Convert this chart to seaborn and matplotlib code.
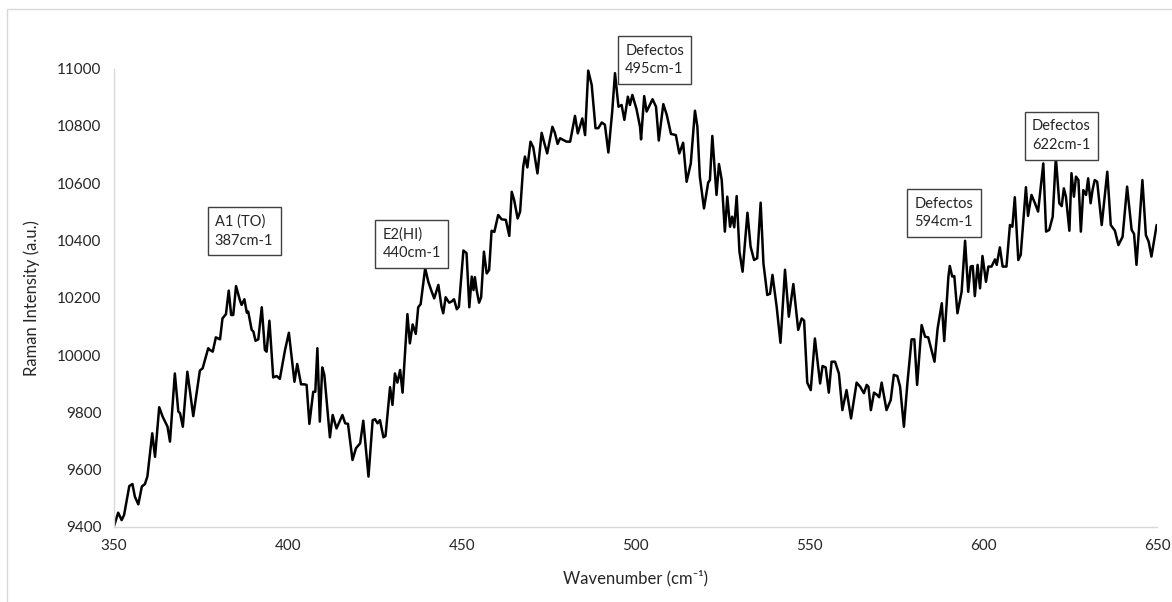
import matplotlib
matplotlib.use("Agg")
import matplotlib.pyplot as plt
import seaborn as sns
import pandas as pd
from matplotlib.patches import Rectangle

wavenumber = [
    350.0, 351.2, 352.2, 352.9, 354.4, 355.3, 356.0, 357.0, 358.0, 358.9, 359.6, 361.0, 361.8, 363.0,
    364.0, 365.0, 365.4, 366.1, 367.5, 368.5, 369.0, 369.8, 371.1, 372.0, 372.8, 373.6, 374.7, 375.5,
    377.1, 377.6, 378.4, 379.3, 380.5, 381.2, 382.2, 383.0, 383.7, 384.3, 385.1, 386.2, 386.7, 387.5,
    388.2, 388.6, 389.6, 390.1, 390.7, 391.5, 392.5, 393.4, 393.9, 394.7, 395.8, 396.8, 397.7, 399.2,
    400.3, 401.9, 402.7, 403.8, 404.7, 405.4, 406.2, 407.3, 407.9, 408.5, 409.2, 409.9, 410.5, 412.1,
    412.9, 414.0, 415.7, 416.5, 417.3, 418.6, 419.6, 420.8, 421.7, 423.2, 424.4, 425.1,
    425.8, 426.5, 427.5, 428.1, 429.4, 430.1, 430.8, 431.5, 432.3, 433.0, 434.4, 435.1, 435.9, 436.8,
    437.5, 438.2, 439.5, 440.4, 441.4, 442.1, 443.3, 444.2, 444.7, 445.4, 446.4, 447.1, 447.8, 448.6,
    449.2, 450.5, 451.4, 452.2, 452.9, 453.4, 453.8, 454.3, 455.0, 455.6, 456.4, 457.2, 457.9, 458.6,
    459.4, 460.5, 461.5, 462.7, 463.7, 464.4, 465.1, 466.1, 466.8, 467.7, 468.2, 468.9, 469.8, 470.6,
    471.8, 473.0, 473.8, 474.6, 476.1, 476.8, 477.6, 478.3, 479.2, 480.2, 481.2, 482.6, 483.4, 484.0,
    484.7, 485.5, 486.4, 487.4, 488.5, 489.3, 490.3, 491.2, 492.2, 493.3, 494.1, 495.1, 496.0, 496.8,
    497.8, 498.4, 499.1, 500.3,
    501.3, 501.6, 502.5, 503.2, 504.9, 505.9, 506.7, 508.0, 509.0, 510.2, 511.6, 512.6, 513.7, 514.7,
    515.9, 517.1, 517.8, 518.5, 519.7, 520.9, 521.4, 522.1, 523.3, 524.0, 524.8, 525.7, 526.4, 527.2,
    527.8, 528.4, 529.1, 529.9, 530.8, 532.2, 533.1, 534.1, 535.0, 536.0, 536.8, 537.9, 538.7, 539.4,
    540.6, 541.7, 543.0, 544.1, 545.4, 546.8, 547.8, 548.5, 549.4, 550.4, 551.6, 553.1, 553.8, 554.7,
    555.6, 556.4, 557.4, 558.5, 559.5, 560.7, 562.0, 563.6, 564.6, 565.7, 566.5, 567.0, 567.7, 568.6,
    569.5, 570.1, 570.8, 572.2, 573.4, 574.3, 575.3, 576.1, 577.2,
    578.2, 579.4, 580.2, 581.0, 582.3, 583.3, 584.2, 586.0, 586.9, 588.1, 588.8, 590.0, 590.4, 591.1,
    591.7, 592.6, 593.8, 594.8, 595.7, 596.4, 597.0, 597.6, 598.4, 599.1, 599.8, 600.8, 601.5, 602.4,
    603.4, 603.9, 604.8, 605.6, 606.7, 607.7, 608.4, 609.1, 610.1, 610.8, 612.3, 612.9, 613.9, 614.9,
    615.8, 617.3, 618.1, 619.0, 620.0, 620.9, 621.9, 622.6, 623.2, 623.8, 624.8, 625.4, 626.1, 626.7,
    627.4, 628.1, 628.8, 629.6, 630.2, 630.9, 631.5, 632.1, 632.8, 634.1, 635.7, 636.7, 637.9, 638.9,
    640.1, 641.4, 642.7, 643.4, 644.1, 645.8, 646.8, 647.6, 648.4, 649.9,
]

intensity = [
    9403, 9450, 9424, 9442, 9543, 9550, 9506, 9479, 9541, 9550, 9576, 9727, 9645, 9818,
    9785, 9760, 9750, 9698, 9936, 9803, 9797, 9750, 9942, 9861, 9787, 9855, 9946, 9954,
    10024, 10018, 10012, 10062, 10055, 10128, 10143, 10225, 10140, 10140, 10241, 10192, 10175, 10195,
    10148, 10152, 10088, 10082, 10050, 10055, 10167, 10018, 10012, 10120, 9922, 9927, 9917, 10018,
    10078, 9907, 9969, 9898, 9898, 9896, 9760, 9872, 9872, 10024, 9768, 9957, 9931, 9713,
    9791, 9744, 9791, 9762, 9760, 9634, 9675, 9692, 9771, 9576, 9773, 9776,
    9762, 9773, 9713, 9718, 9888, 9826, 9936, 9904, 9948, 9869, 10143, 10041, 10107, 10074,
    10167, 10178, 10303, 10256, 10221, 10198, 10245, 10169, 10146, 10202, 10183, 10187, 10195, 10160,
    10169, 10365, 10356, 10167, 10274, 10227, 10272, 10227, 10183, 10202, 10361, 10285, 10297, 10434,
    10430, 10489, 10474, 10472, 10416, 10570, 10541, 10477, 10500, 10658, 10693, 10655, 10745, 10725,
    10634, 10776, 10739, 10704, 10797, 10776, 10737, 10757, 10751, 10745, 10745, 10835, 10774, 10797,
    10826, 10768, 10993, 10943, 10792, 10792, 10812, 10804, 10707, 10850, 10984, 10867, 10873, 10821,
    10902, 10873, 10908, 10858,
    10797, 10753, 10904, 10850, 10893, 10867, 10749, 10876, 10838, 10772, 10768, 10704, 10741, 10605,
    10669, 10853, 10797, 10623, 10512, 10602, 10611, 10765, 10559, 10667, 10611, 10431, 10553, 10448,
    10483, 10446, 10555, 10361, 10291, 10497, 10379, 10332, 10338, 10532, 10320, 10210, 10214, 10280,
    10169, 10043, 10298, 10134, 10248, 10088, 10128, 10120, 9904, 9878, 10058, 9901, 9962, 9957,
    9869, 9977, 9977, 9936, 9808, 9878, 9779, 9904, 9890, 9867, 9896, 9890, 9808, 9869,
    9861, 9853, 9904, 9808, 9843, 9931, 9927, 9890, 9750,
    9901, 10055, 10055, 9896, 10105, 10064, 10062, 9977, 10093, 10181, 10049, 10274, 10311, 10274,
    10276, 10146, 10221, 10399, 10221, 10309, 10311, 10206, 10315, 10233, 10346, 10256, 10309, 10309,
    10334, 10315, 10376, 10309, 10309, 10454, 10448, 10551, 10332, 10350, 10586, 10486, 10559, 10530,
    10501, 10669, 10431, 10437, 10483, 10690, 10530, 10520, 10582, 10553, 10434, 10635, 10553, 10623,
    10611, 10431, 10576, 10559, 10617, 10530, 10579, 10611, 10605, 10454, 10640, 10454, 10434, 10384,
    10413, 10588, 10437, 10423, 10315, 10611, 10419, 10396, 10344, 10454,
]

x_ticks = [350, 400, 450, 500, 550, 600, 650]
y_ticks = [9400, 9600, 9800, 10000, 10200, 10400, 10600, 10800, 11000]

ann_labels = ["A1 (TO)\n387cm-1", "E2(HI)\n440cm-1", "Defectos\n495cm-1",
              "Defectos\n594cm-1", "Defectos\n622cm-1"]
ann_x = [387.4, 435.6, 505.5, 588.7, 622.5]
ann_y = [10433, 10389, 11030, 10496, 10765]

sns.set_theme(style="white")
plt.rcParams['font.family'] = ['Lato', 'DejaVu Sans']

df = pd.DataFrame({"wavenumber": wavenumber, "intensity": intensity})

fig = plt.figure(figsize=(11.72, 6.02), dpi=100)
ax = fig.add_axes([114/1172, 1 - 527/602, (1157 - 114)/1172, (527 - 68.6)/602])

sns.lineplot(data=df, x="wavenumber", y="intensity", sort=False, estimator=None,
             color="black", linewidth=1.8, ax=ax)

ax.set_xlim(350, 650)
ax.set_ylim(9400, 11000)
ax.set_xticks(x_ticks)
ax.set_yticks(y_ticks)
ax.set_xticklabels([str(v) for v in x_ticks], fontsize=11, color="#262626")
ax.set_yticklabels([str(v) for v in y_ticks], fontsize=11, color="#262626")
ax.tick_params(axis="both", length=0, pad=9)

for side in ["top", "right"]:
    ax.spines[side].set_visible(False)
for side in ["left", "bottom"]:
    ax.spines[side].set_color("#d9d9d9")
    ax.spines[side].set_linewidth(1.0)

ax.set_xlabel("Wavenumber (cm\u207b\u00b9)", fontsize=12, color="#262626", labelpad=12)
ax.set_ylabel("Raman Intensity (a.u.)", fontsize=12, color="#262626", labelpad=12)

for txt, xv, yv in zip(ann_labels, ann_x, ann_y):
    ax.text(xv, yv, txt, ha="center", va="center", multialignment="left",
            fontsize=10.5, color="#262626", linespacing=1.45, clip_on=False,
            bbox=dict(boxstyle="square,pad=0.5", facecolor="white",
                      edgecolor="#404040", linewidth=1.0))

fig.patches.append(Rectangle((7/1172, -0.01), 1.0, 1 - 9/602 + 0.01,
                             transform=fig.transFigure, fill=False,
                             edgecolor="#d9d9d9", linewidth=1.0))

fig.savefig("out.png", dpi=100)
